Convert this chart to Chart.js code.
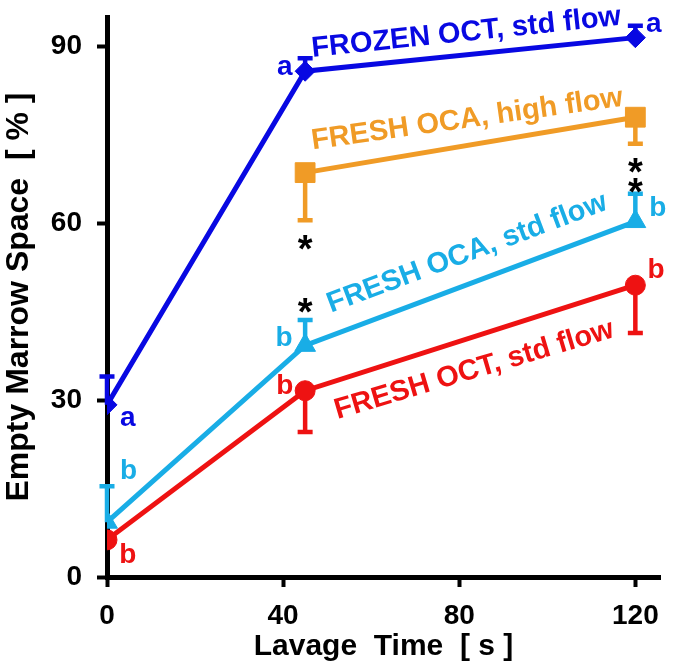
<!DOCTYPE html>
<html>
<head>
<meta charset="utf-8">
<script src="https://cdn.jsdelivr.net/npm/chart.js@4.4.1/dist/chart.umd.min.js"></script>
<style>
  body { margin: 0; background: #fff; }
  canvas { display: block; }
</style>
</head>
<body>
<canvas id="marrowChart" width="675" height="668"></canvas>
<script>
// data
const lavageTime = [0, 45, 120];
const xTicks = [0, 40, 80, 120];
const yTicks = [0, 30, 60, 90];

const frozenOctStd = [29.2, 85.8, 91.5];
const frozenOctStdErr = [34, 88, 93.5];
const freshOcaHigh = [null, 68.6, 78];
const freshOcaHighErr = [null, 60.5, 73.5];
const freshOcaStd = [9.3, 39.3, 60.3];
const freshOcaStdErr = [15.4, 43.6, 65];
const freshOctStd = [6.3, 31.6, 49.5];
const freshOctStdErr = [null, 24.6, 41.4];

const BLUE = '#0808e2';
const ORANGE = '#f09b26';
const CYAN = '#19ade6';
const RED = '#ee1212';

// text annotations: [text, x, y, color, font size, angle]
const notes = [
  ['FROZEN OCT, std flow', 81.6, 92.3, BLUE, 29, -6],
  ['FRESH OCA, high flow', 81.8, 77.6, ORANGE, 29, -8],
  ['FRESH OCA, std flow', 81.8, 54.9, CYAN, 29, -20.5],
  ['FRESH OCT, std flow', 83.4, 35.1, RED, 29, -16.5],
  ['a', 4.7, 27, BLUE, 28, 0],
  ['a', 40.4, 86.5, BLUE, 28, 0],
  ['a', 124.2, 93.8, BLUE, 28, 0],
  ['b', 4.9, 18, CYAN, 28, 0],
  ['b', 40.2, 40.5, CYAN, 28, 0],
  ['b', 125.1, 62.5, CYAN, 28, 0],
  ['b', 4.7, 3.6, RED, 28, 0],
  ['b', 40.4, 32.4, RED, 28, 0],
  ['b', 124.7, 52, RED, 28, 0]
];
const stars = [[45, 57.1], [45, 46.4], [120, 70.3], [120, 66.8]];

function pts(vals) {
  return lavageTime.map((t, i) => ({ x: t, y: vals[i] }));
}

function series(label, vals, err, color, style, radius) {
  return {
    label: label,
    data: pts(vals),
    err: err,
    borderColor: color,
    backgroundColor: color,
    borderWidth: 5,
    pointStyle: style,
    pointRadius: radius,
    pointBorderWidth: 1,
    tension: 0
  };
}

const errorBars = {
  id: 'errorBars',
  beforeDatasetsDraw(chart) {
    const ctx = chart.ctx;
    const xs = chart.scales.x, ys = chart.scales.y;
    chart.data.datasets.forEach(ds => {
      ds.err.forEach((e, i) => {
        if (e == null || ds.data[i].y == null) return;
        const px = xs.getPixelForValue(ds.data[i].x);
        const p0 = ys.getPixelForValue(ds.data[i].y);
        const p1 = ys.getPixelForValue(e);
        ctx.save();
        ctx.strokeStyle = ds.borderColor;
        ctx.lineWidth = 4.5;
        ctx.beginPath();
        ctx.moveTo(px, p0);
        ctx.lineTo(px, p1);
        ctx.moveTo(px - 7.5, p1);
        ctx.lineTo(px + 7.5, p1);
        ctx.stroke();
        ctx.restore();
      });
    });
  }
};

const textNotes = {
  id: 'textNotes',
  afterDatasetsDraw(chart) {
    const ctx = chart.ctx;
    const xs = chart.scales.x, ys = chart.scales.y;
    ctx.save();
    ctx.textAlign = 'center';
    ctx.textBaseline = 'middle';
    notes.forEach(n => {
      ctx.save();
      ctx.translate(xs.getPixelForValue(n[1]), ys.getPixelForValue(n[2]));
      ctx.rotate(n[5] * Math.PI / 180);
      ctx.fillStyle = n[3];
      ctx.font = 'bold ' + n[4] + 'px "Liberation Sans", Arial, sans-serif';
      ctx.fillText(n[0], 0, 0);
      ctx.restore();
    });
    ctx.fillStyle = '#000';
    ctx.font = 'bold 38px "Liberation Sans", Arial, sans-serif';
    ctx.textBaseline = 'alphabetic';
    stars.forEach(s => {
      ctx.fillText('*', xs.getPixelForValue(s[0]), ys.getPixelForValue(s[1]) + 22);
    });
    ctx.restore();
  }
};

const FAMILY = '"Liberation Sans", Arial, sans-serif';
const tickFont = { family: FAMILY, size: 28, weight: 'bold' };

new Chart(document.getElementById('marrowChart').getContext('2d'), {
  type: 'line',
  data: {
    datasets: [
      series('FROZEN OCT, std flow', frozenOctStd, frozenOctStdErr, BLUE, 'rectRot', 10),
      series('FRESH OCA, high flow', freshOcaHigh, freshOcaHighErr, ORANGE, 'rect', 14),
      series('FRESH OCA, std flow', freshOcaStd, freshOcaStdErr, CYAN, 'triangle', 12),
      series('FRESH OCT, std flow', freshOctStd, freshOctStdErr, RED, 'circle', 10)
    ]
  },
  options: {
    responsive: false,
    animation: false,
    layout: { padding: { top: 17, right: 6, left: 0, bottom: 0 } },
    plugins: {
      legend: { display: false },
      tooltip: { enabled: false }
    },
    scales: {
      x: {
        type: 'linear',
        min: 0,
        max: 125.6,
        afterBuildTicks: s => { s.ticks = xTicks.map(v => ({ value: v })); },
        afterFit: s => { s.height = 91; s.paddingLeft = 0; s.paddingRight = 0; },
        border: { color: '#000', width: 5 },
        grid: { drawOnChartArea: false, color: '#000', tickLength: 10, tickWidth: 4 },
        ticks: { color: '#000', font: tickFont, padding: 12, maxRotation: 0 },
        title: {
          display: true,
          text: 'Lavage  Time  [ s ]',
          color: '#000',
          font: { family: FAMILY, size: 30, weight: 'bold' },
          padding: { top: 0, bottom: 3 }
        }
      },
      y: {
        min: 0,
        max: 95,
        afterBuildTicks: s => { s.ticks = yTicks.map(v => ({ value: v })); },
        afterFit: s => { s.width = 107; s.paddingTop = 0; s.paddingBottom = 0; },
        border: { color: '#000', width: 5 },
        grid: { drawOnChartArea: false, color: '#000', tickLength: 10, tickWidth: 4 },
        ticks: { color: '#000', font: tickFont, padding: 15 },
        title: {
          display: true,
          text: 'Empty Marrow Space  [ % ]',
          color: '#000',
          font: { family: FAMILY, size: 32, weight: 'bold' },
          padding: { top: 0, bottom: 0 }
        }
      }
    }
  },
  plugins: [errorBars, textNotes]
});
</script>
</body>
</html>
